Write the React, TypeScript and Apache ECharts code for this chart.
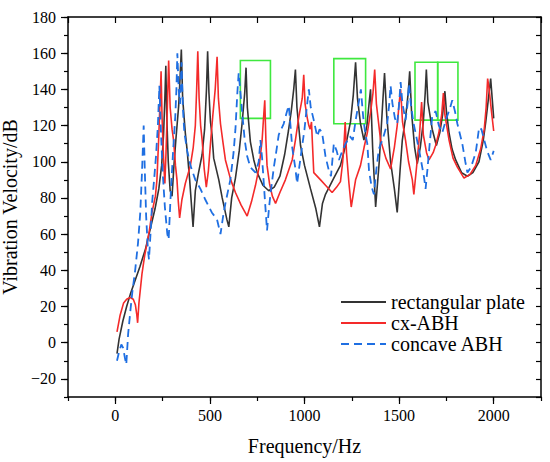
import React, { useEffect, useRef } from "react";
import * as echarts from "echarts";

// ---- data (Hz, dB) ----
const rectPlate: [number, number][] = [
  [9, -6], [20, 2], [40, 12], [60, 20], [80, 27], [100, 33], [130, 42], [160, 52], [185, 63],
  [210, 74], [230, 85], [245, 98], [255, 115], [262, 135], [267, 153], [272, 125], [280, 100],
  [290, 84], [300, 81], [310, 98], [320, 112], [335, 131], [343, 148], [349, 162], [356, 135],
  [370, 116], [380, 106], [393, 90], [411, 64], [423, 84], [440, 94], [459, 104], [472, 118],
  [482, 140], [488, 161], [495, 138], [503, 122], [511, 115], [520, 102], [547, 90], [565, 80],
  [590, 68], [600, 64], [615, 80], [635, 91], [655, 106], [670, 121], [684, 138], [691, 152],
  [698, 130], [714, 111], [732, 101], [750, 94], [780, 87], [811, 84], [840, 86], [870, 92],
  [895, 104], [915, 117], [930, 128], [943, 140], [952, 151], [960, 130], [979, 109], [1000, 98],
  [1032, 85], [1060, 74], [1079, 64], [1095, 77], [1111, 82], [1150, 90], [1190, 98], [1220, 110],
  [1243, 122], [1258, 137], [1270, 155], [1280, 135], [1296, 121], [1314, 112], [1330, 120],
  [1342, 133], [1349, 140], [1360, 108], [1376, 75], [1395, 100], [1412, 130], [1423, 149],
  [1435, 125], [1455, 100], [1475, 85], [1490, 72], [1505, 95], [1517, 112], [1535, 125],
  [1548, 138], [1556, 150], [1566, 127], [1582, 108], [1596, 99], [1612, 108], [1628, 122],
  [1638, 138], [1644, 151], [1652, 133], [1675, 118], [1697, 109], [1715, 116], [1730, 126],
  [1742, 139], [1750, 128], [1764, 116], [1780, 107], [1799, 101], [1830, 94], [1861, 92],
  [1890, 94], [1922, 100], [1945, 112], [1958, 122], [1970, 133], [1984, 146], [1992, 135],
  [2000, 124],
];

const cxABH: [number, number][] = [
  [9, 6], [25, 15], [44, 22], [60, 24], [79, 25], [95, 24], [106, 21], [113, 16], [118, 11],
  [125, 22], [141, 38], [155, 48], [168, 55], [180, 62], [194, 72], [212, 81], [220, 90],
  [229, 112], [237, 135], [242, 150], [247, 125], [252, 110], [258, 95], [262, 88], [268, 105],
  [275, 130], [282, 156], [290, 130], [300, 118], [308, 112], [318, 98], [326, 90], [333, 78],
  [340, 69], [352, 79], [370, 88], [397, 98], [412, 108], [423, 120], [430, 140], [436, 161],
  [443, 135], [451, 120], [459, 112], [470, 96], [481, 86], [492, 95], [503, 110], [515, 125],
  [528, 140], [538, 158], [545, 135], [556, 121], [570, 110], [582, 101], [610, 90], [635, 83],
  [665, 76], [697, 70], [720, 78], [741, 87], [760, 97], [776, 112], [784, 125], [790, 134],
  [796, 112], [802, 98], [815, 88], [830, 81], [847, 77], [870, 83], [899, 90], [935, 101],
  [952, 112], [970, 125], [988, 135], [996, 148], [1003, 132], [1015, 124], [1023, 120],
  [1030, 118], [1037, 122], [1042, 110], [1049, 94], [1085, 90], [1111, 87], [1146, 83],
  [1170, 86], [1190, 89], [1202, 100], [1210, 112], [1215, 122], [1222, 105], [1235, 88],
  [1247, 75], [1270, 90], [1296, 98], [1315, 108], [1332, 116], [1350, 128], [1362, 138],
  [1371, 151], [1380, 132], [1402, 112], [1430, 102], [1455, 96], [1475, 108], [1490, 120],
  [1500, 132], [1508, 140], [1518, 122], [1534, 112], [1550, 100], [1570, 90], [1578, 82],
  [1595, 100], [1608, 115], [1619, 133], [1628, 115], [1645, 105], [1658, 101], [1680, 105],
  [1693, 109], [1710, 116], [1725, 126], [1734, 138], [1742, 126], [1764, 112], [1785, 102],
  [1808, 97], [1843, 91], [1875, 93], [1905, 98], [1931, 107], [1950, 118], [1960, 130],
  [1968, 146], [1976, 140], [1988, 128], [2000, 117],
];

const concaveABH: [number, number][] = [
  [9, -10], [20, -5], [32, -1], [42, -3], [50, -8], [58, -12], [68, 5], [80, 18], [90, 28],
  [105, 40], [120, 55], [132, 72], [141, 94], [150, 120], [156, 95], [163, 70], [172, 52],
  [178, 46], [186, 60], [195, 78], [205, 90], [215, 103], [225, 120], [233, 142], [240, 120],
  [250, 95], [262, 75], [275, 60], [282, 57], [292, 80], [305, 105], [317, 125], [323, 140],
  [328, 160], [335, 140], [342, 132], [350, 155], [357, 130], [365, 116], [380, 106], [397, 98],
  [423, 90], [450, 85], [476, 79], [510, 72], [538, 68], [556, 60], [570, 70], [582, 77],
  [608, 90], [625, 105], [635, 118], [645, 138], [652, 149], [660, 140], [670, 128], [684, 112],
  [697, 103], [714, 97], [741, 94], [758, 100], [767, 112], [776, 102], [790, 80], [802, 62],
  [812, 74], [820, 82], [838, 97], [847, 103], [864, 115], [890, 121], [908, 128], [917, 131],
  [926, 120], [935, 108], [952, 96], [961, 88], [980, 103], [1000, 118], [1012, 130], [1023, 140],
  [1033, 130], [1049, 123], [1067, 114], [1080, 118], [1093, 116], [1111, 103], [1129, 95],
  [1140, 92], [1155, 110], [1170, 106], [1182, 101], [1200, 106], [1217, 110], [1240, 114],
  [1255, 112], [1272, 124], [1287, 133], [1298, 140], [1310, 125], [1322, 115], [1332, 110],
  [1341, 95], [1355, 86], [1367, 82], [1380, 96], [1393, 107], [1415, 113], [1437, 121],
  [1448, 132], [1455, 142], [1465, 132], [1478, 124], [1490, 121], [1500, 132], [1508, 144],
  [1518, 132], [1534, 123], [1545, 132], [1552, 143], [1562, 132], [1575, 122], [1587, 116],
  [1610, 104], [1631, 92], [1640, 85], [1650, 96], [1660, 108], [1675, 125], [1693, 128],
  [1710, 120], [1728, 116], [1750, 124], [1770, 130], [1781, 134], [1795, 128], [1808, 121],
  [1834, 110], [1850, 100], [1861, 94], [1880, 97], [1905, 105], [1923, 119], [1935, 118],
  [1950, 112], [1965, 106], [1984, 101], [2000, 106],
];

// highlighted regions: [xStart, xEnd, yLow, yHigh]
const highlightBoxes: [number, number, number, number][] = [
  [661, 820, 124, 156],
  [1155, 1323, 121, 157],
  [1584, 1704, 123, 155],
  [1704, 1811, 123, 155],
];

const seriesNames = ["rectangular plate", "cx-ABH", "concave ABH"];
const xTickLabels = [0, 500, 1000, 1500, 2000];
const yTickLabels = [-20, 0, 20, 40, 60, 80, 100, 120, 140, 160, 180];

const FONT = "'Liberation Serif', 'Times New Roman', 'DejaVu Serif', serif";

const fmt = (v: number) => (v < 0 ? "\u2212" + Math.abs(v) : String(v));

export default function App() {
  const ref = useRef<HTMLDivElement>(null);

  useEffect(() => {
    if (!ref.current) return;
    const chart = echarts.init(ref.current, undefined, { renderer: "svg" });

    const axisLine = { show: true, onZero: false, lineStyle: { color: "#000", width: 1.5 } };
    const hiddenLine = { show: false, onZero: false };
    const tickLine = { color: "#000", width: 1.2 };

    chart.setOption({
      animation: false,
      backgroundColor: "#fff",
      textStyle: { fontFamily: FONT },
      grid: { left: 68, right: 9, top: 17, bottom: 65, containLabel: false, outerBoundsMode: "none" },
      legend: {
        orient: "vertical",
        left: 340,
        top: 292,
        padding: 0,
        itemWidth: 45,
        itemHeight: 14,
        itemGap: 1,
        data: seriesNames,
        itemStyle: { color: "rgba(0,0,0,0)", borderColor: "rgba(0,0,0,0)", borderWidth: 0, opacity: 0 },
        textStyle: { fontFamily: FONT, fontSize: 20, color: "#000", lineHeight: 20 },
      },
      xAxis: [
        {
          type: "value",
          min: -250,
          max: 2250,
          interval: 250,
          position: "bottom",
          axisLine,
          axisTick: { show: true, inside: false, length: 4, lineStyle: tickLine },
          axisLabel: {
            customValues: xTickLabels,
            formatter: (v: number) => (xTickLabels.includes(v) ? fmt(v) : ""),
            fontFamily: FONT,
            fontSize: 16,
            color: "#000",
            margin: 10,
          },
          splitLine: { show: false },
          name: "Frequency/Hz",
          nameLocation: "middle",
          nameGap: 39,
          nameTextStyle: { fontFamily: FONT, fontSize: 20, color: "#000" },
        },
        {
          type: "value",
          min: -250,
          max: 2250,
          position: "bottom",
          axisLine: hiddenLine,
          axisTick: { show: true, inside: false, length: 7, customValues: xTickLabels, lineStyle: tickLine },
          axisLabel: { show: false },
          splitLine: { show: false },
        },
        {
          type: "value",
          min: -250,
          max: 2250,
          interval: 250,
          position: "top",
          axisLine,
          axisTick: { show: true, inside: true, length: 6, lineStyle: tickLine },
          axisLabel: { show: false },
          splitLine: { show: false },
        },
      ],
      yAxis: [
        {
          type: "value",
          min: -30,
          max: 180,
          interval: 10,
          position: "left",
          axisLine,
          axisTick: { show: true, inside: false, length: 4, lineStyle: tickLine },
          axisLabel: {
            customValues: yTickLabels,
            formatter: (v: number) => (yTickLabels.includes(v) ? fmt(v) : ""),
            fontFamily: FONT,
            fontSize: 16,
            color: "#000",
            margin: 12,
          },
          splitLine: { show: false },
          name: "Vibration Velocity/dB",
          nameLocation: "middle",
          nameGap: 42,
          nameTextStyle: { fontFamily: FONT, fontSize: 20, color: "#000" },
        },
        {
          type: "value",
          min: -30,
          max: 180,
          position: "left",
          axisLine: hiddenLine,
          axisTick: { show: true, inside: false, length: 7, customValues: yTickLabels, lineStyle: tickLine },
          axisLabel: { show: false },
          splitLine: { show: false },
        },
        {
          type: "value",
          min: -30,
          max: 180,
          interval: 10,
          position: "right",
          axisLine,
          axisTick: { show: true, inside: true, length: 5, lineStyle: tickLine },
          axisLabel: { show: false },
          splitLine: { show: false },
        },
      ],
      series: [
        {
          name: seriesNames[0],
          type: "line",
          data: rectPlate,
          xAxisIndex: 0,
          yAxisIndex: 0,
          symbol: "none",
          lineStyle: { color: "#333333", width: 1.6 },
          itemStyle: { color: "#333333" },
          markArea: {
            silent: true,
            label: { show: false },
            itemStyle: { color: "rgba(0,0,0,0)", borderColor: "#3fe83f", borderWidth: 1.6 },
            data: highlightBoxes.map(([x0, x1, y0, y1]) => [
              { xAxis: x0, yAxis: y0 },
              { xAxis: x1, yAxis: y1 },
            ]),
          },
        },
        {
          name: seriesNames[1],
          type: "line",
          data: cxABH,
          xAxisIndex: 0,
          yAxisIndex: 0,
          symbol: "none",
          lineStyle: { color: "#f42a2a", width: 1.6 },
          itemStyle: { color: "#f42a2a" },
        },
        {
          name: seriesNames[2],
          type: "line",
          data: concaveABH,
          xAxisIndex: 0,
          yAxisIndex: 0,
          symbol: "none",
          lineStyle: { color: "#1f6fe2", width: 1.8, type: [8, 5] },
          itemStyle: { color: "#1f6fe2" },
        },
      ],
    });

    return () => chart.dispose();
  }, []);

  return (
    <div
      ref={ref}
      style={{ position: "fixed", left: 0, top: 0, width: 550, height: 462, background: "#fff" }}
    />
  );
}
